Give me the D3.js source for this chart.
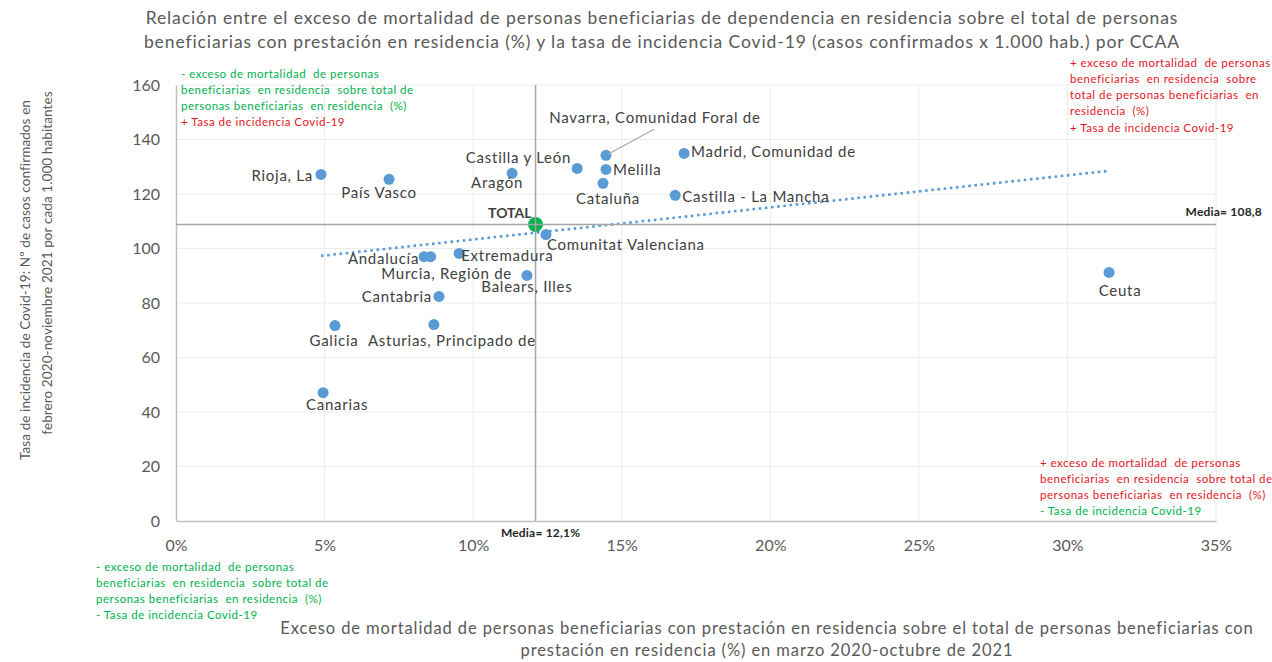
<!DOCTYPE html>
<html>
<head>
<meta charset="utf-8">
<script src="https://cdn.jsdelivr.net/npm/d3@7"></script>
<style>
  html, body { margin: 0; padding: 0; background: #ffffff; }
  svg { display: block; font-family: Lato, "Open Sans", sans-serif; }
</style>
</head>
<body>
<svg id="chart" width="1272" height="662"></svg>
<script>
// Comunidades autónomas
const regions = [
  "Rioja, La", "País Vasco", "Aragón", "Castilla y León",
  "Navarra, Comunidad Foral de", "Melilla", "Cataluña",
  "Madrid, Comunidad de", "Castilla - La Mancha", "Comunitat Valenciana",
  "Andalucía", "Murcia, Región de", "Extremadura", "Balears, Illes",
  "Cantabria", "Asturias, Principado de", "Galicia", "Canarias", "Ceuta"
];
// Exceso de mortalidad en residencia (%)
const excess = [
  4.88, 7.17, 11.31, 13.50,
  14.47, 14.47, 14.37,
  17.10, 16.80, 12.45,
  8.35, 8.57, 9.53, 11.81,
  8.85, 8.68, 5.35, 4.95, 31.40
];
// Tasa de incidencia Covid-19 (casos x 1.000 hab.)
const incidence = [
  127.2, 125.4, 127.6, 129.4,
  134.2, 129.0, 123.9,
  134.9, 119.5, 105.1,
  97.0, 97.0, 98.2, 90.1,
  82.4, 72.1, 71.7, 47.1, 91.2
];
// Total nacional (medias)
const totalExcess = 12.1;
const totalIncidence = 108.8;

const xTicks = [0, 5, 10, 15, 20, 25, 30, 35];
const yTicks = [0, 20, 40, 60, 80, 100, 120, 140, 160];

// Label placement relative to each point: [dx, dy, anchor]
const labelPlacement = {
  "Rioja, La": [-8, 1, "end"],
  "País Vasco": [-10, 13, "middle"],
  "Aragón": [-15, 9, "middle"],
  "Castilla y León": [-6, -11, "end"],
  "Navarra, Comunidad Foral de": [49, -38, "middle"],
  "Melilla": [7, 0, "start"],
  "Cataluña": [5, 15, "middle"],
  "Madrid, Comunidad de": [7, -2, "start"],
  "Castilla - La Mancha": [7, 1, "start"],
  "Comunitat Valenciana": [1, 9, "start"],
  "Andalucía": [-5, 1, "end"],
  "Murcia, Región de": [16, 16, "middle"],
  "Extremadura": [2, 2, "start"],
  "Balears, Illes": [0, 11, "middle"],
  "Cantabria": [-7, 0, "end"],
  "Asturias, Principado de": [18, 15, "middle"],
  "Galicia": [-1, 14, "middle"],
  "Canarias": [14, 11, "middle"],
  "Ceuta": [11, 18, "middle"]
};

const svg = d3.select("#chart");
const plot = { left: 176, right: 1216, top: 85, bottom: 521 };

const x = d3.scaleLinear().domain([0, 35]).range([plot.left, plot.right]);
const y = d3.scaleLinear().domain([0, 160]).range([plot.bottom, plot.top]);

const textColor = "#595959";
const pointColor = "#5b9bd5";
const green = "#00b050";
const red = "#e0161e";

// Gridlines
svg.append("g")
  .selectAll("line.hgrid")
  .data(yTicks.filter(d => d > 0))
  .join("line")
  .attr("x1", plot.left).attr("x2", plot.right)
  .attr("y1", d => y(d)).attr("y2", d => y(d))
  .attr("stroke", "#ececec").attr("stroke-width", 1);

svg.append("g")
  .selectAll("line.vgrid")
  .data(xTicks.filter(d => d > 0))
  .join("line")
  .attr("x1", d => x(d)).attr("x2", d => x(d))
  .attr("y1", plot.top).attr("y2", plot.bottom)
  .attr("stroke", "#ececec").attr("stroke-width", 1);

// Axes
const yAxis = d3.axisLeft(y).tickValues(yTicks).tickSize(0).tickPadding(16);
const gy = svg.append("g").attr("transform", `translate(${plot.left},0)`).call(yAxis);
gy.select(".domain").attr("stroke", "#bfbfbf").attr("stroke-width", 1.5);
gy.selectAll("text").attr("fill", textColor).style("font-size", "16px")
  .style("font-family", "Lato, sans-serif");

const xAxis = d3.axisBottom(x).tickValues(xTicks).tickSize(0).tickPadding(19)
  .tickFormat(d => d + "%");
const gx = svg.append("g").attr("transform", `translate(0,${plot.bottom})`).call(xAxis);
gx.select(".domain").attr("stroke", "#bfbfbf").attr("stroke-width", 1.5);
gx.selectAll("text").attr("fill", textColor).style("font-size", "16px")
  .style("font-family", "Lato, sans-serif");

// Linear trend line (least squares over the regions)
const n = excess.length;
const mx = d3.mean(excess), my = d3.mean(incidence);
let sxy = 0, sxx = 0;
for (let i = 0; i < n; i++) {
  sxy += (excess[i] - mx) * (incidence[i] - my);
  sxx += (excess[i] - mx) ** 2;
}
const slope = sxy / sxx;
const intercept = my - slope * mx;
const xExt = d3.extent(excess);
svg.append("line")
  .attr("x1", x(xExt[0])).attr("y1", y(intercept + slope * xExt[0]))
  .attr("x2", x(xExt[1])).attr("y2", y(intercept + slope * xExt[1]))
  .attr("stroke", pointColor).attr("stroke-width", 2.6)
  .attr("stroke-dasharray", "2.6 3.6");

// Points
const data = regions.map((r, i) => ({ name: r, ex: excess[i], inc: incidence[i] }));
svg.append("g")
  .selectAll("circle")
  .data(data)
  .join("circle")
  .attr("cx", d => x(d.ex)).attr("cy", d => y(d.inc))
  .attr("r", 5.5)
  .attr("fill", pointColor);

// Total point
svg.append("circle")
  .attr("cx", x(totalExcess)).attr("cy", y(totalIncidence))
  .attr("r", 7.5).attr("fill", green);

// Mean reference lines
svg.append("line")
  .attr("x1", plot.left).attr("x2", plot.right)
  .attr("y1", y(totalIncidence)).attr("y2", y(totalIncidence))
  .attr("stroke", "#a6a6a6").attr("stroke-width", 1.5);
svg.append("line")
  .attr("x1", x(totalExcess)).attr("x2", x(totalExcess))
  .attr("y1", plot.top).attr("y2", plot.bottom)
  .attr("stroke", "#a6a6a6").attr("stroke-width", 1.5);

// Leader line for Navarra
const nav = data.find(d => d.name.startsWith("Navarra"));
svg.append("line")
  .attr("x1", x(nav.ex) + 2).attr("y1", y(nav.inc) - 1)
  .attr("x2", x(nav.ex) + 48).attr("y2", y(nav.inc) - 26)
  .attr("stroke", "#a6a6a6").attr("stroke-width", 1.2);

// Point labels
svg.append("g")
  .selectAll("text")
  .data(data)
  .join("text")
  .attr("x", d => x(d.ex) + labelPlacement[d.name][0])
  .attr("y", d => y(d.inc) + labelPlacement[d.name][1])
  .attr("text-anchor", d => labelPlacement[d.name][2])
  .attr("dominant-baseline", "central")
  .attr("fill", "#404040")
  .style("font-size", "15px")
  .style("letter-spacing", "0.75px")
  .text(d => d.name);

svg.append("text")
  .attr("x", x(totalExcess) - 4).attr("y", y(totalIncidence) - 12)
  .attr("text-anchor", "end").attr("dominant-baseline", "central")
  .attr("fill", "#404040").style("font-size", "14px").style("font-weight", "bold")
  .text("TOTAL");

// Mean labels
svg.append("text")
  .attr("x", 1262).attr("y", y(totalIncidence) - 13)
  .attr("text-anchor", "end").attr("dominant-baseline", "central")
  .attr("fill", "#262626").style("font-size", "12px").style("font-weight", "bold")
  .style("letter-spacing", "0.2px")
  .text("Media= 108,8");
svg.append("text")
  .attr("x", x(totalExcess) + 5).attr("y", plot.bottom + 11)
  .attr("text-anchor", "middle").attr("dominant-baseline", "central")
  .attr("fill", "#262626").style("font-size", "12px").style("font-weight", "bold")
  .style("letter-spacing", "0.2px")
  .text("Media= 12,1%");

// Title
const title = svg.append("text").attr("text-anchor", "middle")
  .attr("fill", textColor).style("font-size", "17.5px").style("letter-spacing", "0.9px");
title.append("tspan").attr("x", 662).attr("y", 24)
  .text("Relación entre el exceso de mortalidad de personas beneficiarias de dependencia  en residencia sobre el total de personas");
title.append("tspan").attr("x", 662).attr("y", 48)
  .text("beneficiarias con prestación en residencia (%) y la tasa de incidencia Covid-19 (casos confirmados x 1.000 hab.) por CCAA");

// Axis titles
const xt = svg.append("text").attr("text-anchor", "middle")
  .attr("fill", textColor).style("font-size", "16.5px").style("letter-spacing", "0.9px");
xt.append("tspan").attr("x", 767).attr("y", 634)
  .text("Exceso de mortalidad de personas beneficiarias con prestación en residencia sobre el total de personas beneficiarias con");
xt.append("tspan").attr("x", 767).attr("y", 656)
  .text("prestación en residencia (%) en marzo 2020-octubre de 2021");

const yt = svg.append("text").attr("text-anchor", "middle")
  .attr("transform", "rotate(-90)")
  .attr("fill", textColor).style("font-size", "13.5px").style("letter-spacing", "0.1px");
yt.append("tspan").attr("x", -280).attr("y", 30)
  .text("Tasa de incidencia de Covid-19: Nº de casos confirmados en");
yt.append("tspan").attr("x", -263).attr("y", 52)
  .text("febrero 2020-noviembre 2021 por cada 1.000 habitantes");

// Quadrant notes
const notes = [
  { x: 181, y: 73, lines: [
    ["- exceso de mortalidad  de personas", green],
    ["beneficiarias  en residencia  sobre total de", green],
    ["personas beneficiarias  en residencia  (%)", green],
    ["+ Tasa de incidencia Covid-19", red]] },
  { x: 1070, y: 62, lines: [
    ["+ exceso de mortalidad  de personas", red],
    ["beneficiarias  en residencia  sobre", red],
    ["total de personas beneficiarias  en", red],
    ["residencia  (%)", red],
    ["+ Tasa de incidencia Covid-19", red]] },
  { x: 1040, y: 462, lines: [
    ["+ exceso de mortalidad  de personas", red],
    ["beneficiarias  en residencia  sobre total de", red],
    ["personas beneficiarias  en residencia  (%)", red],
    ["- Tasa de incidencia Covid-19", green]] },
  { x: 96, y: 566, lines: [
    ["- exceso de mortalidad  de personas", green],
    ["beneficiarias  en residencia  sobre total de", green],
    ["personas beneficiarias  en residencia  (%)", green],
    ["- Tasa de incidencia Covid-19", green]] }
];
notes.forEach(nt => {
  const t = svg.append("text").style("font-size", "11.5px").style("letter-spacing", "0.5px")
    .style("white-space", "pre").attr("xml:space", "preserve");
  nt.lines.forEach((ln, i) => {
    t.append("tspan").attr("x", nt.x).attr("y", nt.y + i * 16.3)
      .attr("dominant-baseline", "central")
      .attr("fill", ln[1]).text(ln[0]);
  });
});
</script>
</body>
</html>
